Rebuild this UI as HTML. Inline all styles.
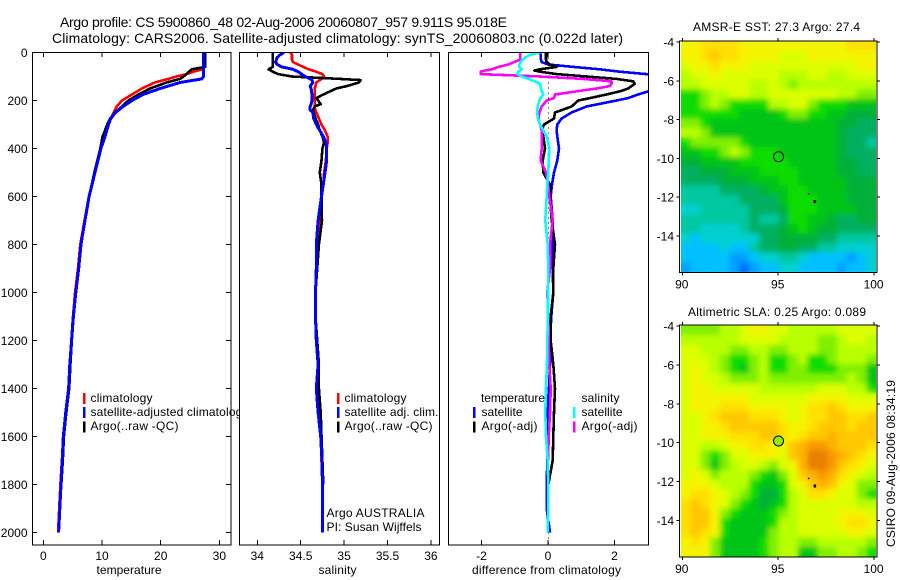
<!DOCTYPE html>
<html>
<head>
<meta charset="utf-8">
<title>Argo profile</title>
<style>
html,body{margin:0;padding:0;background:#fff;width:900px;height:580px;overflow:hidden}
svg{display:block}
text{font-family:"Liberation Sans",sans-serif;font-size:12px;fill:#000}
</style>
</head>
<body>
<svg id="chart" xmlns="http://www.w3.org/2000/svg" width="900" height="580" viewBox="0 0 900 580">
<defs id="defs">
<clipPath id="clip-temp"><rect x="32" y="52" width="199" height="493"/></clipPath>
<clipPath id="clip-sal"><rect x="239" y="52" width="201" height="493"/></clipPath>
<clipPath id="clip-diff"><rect x="448" y="52" width="201" height="493"/></clipPath>
<filter id="map-blur" x="-5%" y="-5%" width="110%" height="110%"><feGaussianBlur stdDeviation="2.6"/></filter>
</defs>
<rect width="900" height="580" fill="#fff"/>
<text x="60" y="27" style="font-size:14px" textLength="447" lengthAdjust="spacing">Argo profile: CS 5900860_48 02-Aug-2006 20060807_957 9.911S 95.018E</text>
<text x="52" y="43" style="font-size:14px" textLength="571" lengthAdjust="spacing">Climatology: CARS2006. Satellite-adjusted climatology: synTS_20060803.nc (0.022d later)</text>
<g id="layer"></g>
<text transform="translate(895,547) rotate(-90)" textLength="167" lengthAdjust="spacing">CSIRO 09-Aug-2006 08:34:19</text>
</svg>
<script>
// ---------- Profile data ----------
const tempDepths = [0,50,60,70,80,90,100,110,125,150,175,200,225,250,275,300,350,400,500,600,700,800,900,1000,1100,1200,1300,1400,1500,1600,1700,1800,1900,2000];
const tempClim = [27.3,27.3,27.3,27.1,25.6,24.4,22.7,21.3,19.0,16.8,15.1,13.4,12.5,12.0,11.5,11.1,10.4,9.8,8.8,7.75,7.0,6.3,5.9,5.4,5.05,4.75,4.5,4.3,3.8,3.4,3.15,2.9,2.7,2.5];
const tempArgo = [27.6,27.6,27.6,25.3,24.8,24.4,23.9,23.3,21.0,18.2,16.2,14.5,13.4,12.2,11.4,10.9,10.1,9.7,8.7,7.8,7.1,6.45,6.05,5.55,5.15,4.85,4.6,4.4,3.9,3.5,3.3,3.05];
const tempSat = [27.3,27.3,27.3,27.3,27.3,27.3,27.3,27.0,23.3,19.9,17.0,15.1,13.6,12.3,11.5,11.1,10.5,9.8,8.8,7.8,7.1,6.4,6.0,5.5,5.1,4.8,4.5,4.3,3.8,3.4,3.2,3.0,2.8,2.6];

const salDepths = [0,10,20,30,40,50,60,70,80,90,100,110,115,125,140,150,175,190,200,215,225,240,250,275,300,325,350,375,400,450,500,550,600,650,700,800,900,1000,1100,1200,1300,1400,1500,1600,1700,1800,1900,2000];
const salClim = [34.38,34.40,34.40,34.40,34.41,34.47,34.53,34.59,34.68,34.75,34.77,34.74,34.72,34.68,34.67,34.66,34.66,34.66,34.66,34.66,34.66,34.67,34.68,34.71,34.74,34.78,34.81,34.81,34.80,34.79,34.77,34.76,34.74,34.74,34.72,34.70,34.68,34.67,34.67,34.68,34.70,34.70,34.72,34.73,34.74,34.75,34.75,34.75];
const salArgo = [34.18,34.18,34.18,34.18,34.18,34.18,34.18,34.13,34.18,34.24,34.40,34.95,35.19,35.17,35.03,34.91,34.76,34.68,34.70,34.73,34.66,34.64,34.65,34.67,34.70,34.72,34.75,34.77,34.75,34.74,34.72,34.74,34.74,34.74,34.745,34.71,34.69,34.67,34.67,34.69,34.71,34.71,34.73,34.74,34.75,34.76];
const salSat = [34.31,34.26,34.23,34.22,34.21,34.23,34.28,34.41,34.47,34.51,34.55,34.61,34.63,34.64,34.61,34.62,34.63,34.63,34.63,34.62,34.61,34.61,34.64,34.65,34.68,34.72,34.76,34.79,34.80,34.80,34.78,34.76,34.74,34.72,34.70,34.68,34.68,34.67,34.67,34.68,34.70,34.68,34.70,34.73,34.745,34.75,34.75,34.75];

const diffDepths = [0,10,20,30,40,50,60,70,75,80,90,100,110,120,130,140,150,160,175,190,200,225,250,275,300,325,350,400,450,500,550,600,700,800,900,1000,1100,1200,1300,1400,1500,1600,1700,1800,1900,2000];
const diffTempSat = [-0.24,-0.22,-0.22,-0.21,-0.19,0.01,0.76,1.56,1.86,2.16,2.96,3.76,4.36,4.76,4.56,3.96,3.56,3.06,2.71,2.41,2.06,1.16,0.71,0.41,0.28,0.26,0.28,0.33,0.28,0.18,0.12,0.08,0.14,0.14,0.14,0.16,0.10,0.06,0.06,0.03,-0.02,-0.04,-0.02,-0.04,-0.04,0.06];
const diffTempArgo = [-0.06,-0.06,-0.06,-0.06,-0.04,0.06,0.26,-0.24,-0.41,-0.24,0.26,1.16,2.06,2.56,2.61,2.51,2.41,2.21,1.76,1.26,0.91,0.71,0.21,0.18,-0.12,-0.19,-0.14,-0.09,-0.16,-0.14,0.06,0.06,0.11,0.21,0.16,0.16,0.08,0.08,0.16,0.21,0.18,0.16,0.14,0.01];
const diffSalArgo = [-0.84,-0.84,-0.84,-0.84,-1.02,-1.19,-1.49,-1.69,-1.89,-2.02,-2.02,-0.24,1.06,1.91,1.91,1.86,1.46,0.96,0.21,0.18,-0.04,-0.19,-0.26,-0.29,-0.24,-0.19,-0.18,-0.19,-0.22,-0.06,0.01,0.04,0.14,0.06,0.06,-0.02,0.01,0.02,0.04,0.08,0.06,0.02,0.0];
const diffSalSat = [-0.24,-0.54,-0.69,-0.76,-0.82,-0.86,-0.86,-0.79,-0.84,-0.89,-0.92,-0.79,-0.59,-0.39,-0.24,-0.22,-0.21,-0.19,-0.14,-0.22,-0.26,-0.31,-0.33,-0.30,-0.24,-0.14,-0.04,0.04,0.02,0.01,-0.02,-0.04,-0.08,-0.01,0.01,0,0,-0.02,-0.03,-0.06,-0.08,-0.06,-0.01,0.01,0.01,-0.01];

// ---------- Tick labels ----------
const depthTicks = [0,200,400,600,800,1000,1200,1400,1600,1800,2000];
const tempTicks = [0,10,20,30];
const salTicks = [34,34.5,35,35.5,36];
const diffTicks = [-2,0,2];
const lonTicks = [90,95,100];
const latTicks = [-4,-6,-8,-10,-12,-14];

// ---------- Map data (colour level per cell, north to south) ----------
const sstGrid = [
[12,12,13,13,13,13,12,12,12,12,12,12,12,12,12,12,12,13,13,13],
[12,12,13,14,13,13,12,12,12,12,11,11,11,12,12,12,12,12,12,12],
[11,12,12,13,12,12,12,11,11,11,11,11,11,11,11,11,11,11,12,12],
[10,11,11,12,11,11,11,11,11,11,10,10,10,11,11,10,10,11,11,11],
[10,10,11,11,11,11,11,10,10,11,10,9,10,10,10,10,10,10,10,10],
[8,8,9,10,10,11,11,10,10,11,11,11,11,11,11,11,10,10,9,9],
[8,8,9,10,9,8,8,8,8,10,10,11,11,9,8,8,8,7,7,7],
[8,8,8,8,8,8,7,7,7,7,8,9,9,8,8,7,7,6,6,6],
[9,9,8,7,7,7,7,7,7,7,7,7,7,7,7,7,6,6,5,5],
[10,10,9,7,7,7,7,7,7,7,7,7,7,7,7,7,6,5,5,5],
[8,9,9,9,9,9,8,7,7,7,7,7,7,7,7,7,6,5,5,4],
[7,7,8,8,9,10,9,8,8,8,7,7,7,7,7,7,6,5,5,5],
[6,6,7,7,7,7,8,8,8,8,8,7,7,7,7,7,6,6,5,5],
[5,5,6,6,6,7,7,7,8,8,8,8,7,7,7,7,6,6,5,5],
[5,5,5,5,6,6,6,7,7,7,8,8,7,7,7,7,7,6,6,6],
[4,4,4,4,5,5,5,5,6,7,7,8,8,7,7,7,7,6,6,6],
[4,4,4,4,4,4,5,5,5,5,7,8,8,8,7,7,7,6,6,6],
[3,3,4,4,4,4,4,5,5,5,6,8,8,8,7,7,7,7,6,6],
[4,4,4,4,4,4,4,5,4,4,5,8,8,7,7,6,5,5,6,6],
[4,4,3,3,3,3,4,5,5,5,6,7,8,7,6,6,5,5,5,5],
[3,2,3,3,3,3,3,3,5,5,6,6,6,6,5,5,4,4,4,4],
[2,2,2,2,3,2,2,4,5,5,6,6,5,5,4,4,3,3,3,3],
[2,2,2,2,2,1,1,2,3,3,4,4,3,2,2,2,2,1,2,3],
[1,2,2,2,2,1,0,1,2,2,3,3,2,2,2,2,1,2,2,3]
];
const slaGrid = [
[9,9,9,9,10,10,11,12,12,11,11,10,10,10,10,10,11,11,11,11],
[10,10,10,10,10,10,11,11,11,11,10,10,10,10,9,9,10,11,11,10],
[11,11,10,10,10,9,9,10,10,9,9,10,10,10,9,9,10,10,10,10],
[11,11,11,10,9,8,8,9,10,8,8,9,10,8,8,9,10,10,10,9],
[11,12,11,10,9,8,7,9,10,8,8,9,9,8,8,8,9,9,9,7],
[11,12,11,11,10,9,9,9,10,9,9,9,9,9,9,9,9,10,9,7],
[11,12,12,11,11,11,11,11,10,10,10,10,10,10,11,11,11,10,10,8],
[11,12,12,12,12,12,12,11,11,11,11,11,11,12,12,12,12,11,11,11],
[11,12,12,12,13,13,13,12,12,12,12,11,12,13,13,14,13,12,12,12],
[11,11,12,13,14,14,14,13,13,13,12,11,12,13,13,14,14,13,13,14],
[11,11,12,12,13,14,14,14,14,14,13,12,12,13,14,14,14,13,14,14],
[11,11,12,12,12,13,13,13,14,14,13,12,13,14,14,15,14,14,14,14],
[11,11,10,10,11,12,12,13,13,12,12,14,15,16,16,15,14,14,14,13],
[11,11,9,8,9,11,11,12,12,12,11,14,15,17,17,16,15,14,13,12],
[11,11,9,7,9,10,11,11,10,9,11,12,15,17,17,16,14,13,12,11],
[11,12,11,9,10,10,10,9,8,7,9,11,14,15,16,15,13,12,11,10],
[12,12,12,11,10,10,10,8,7,7,8,11,12,14,15,14,12,11,9,9],
[12,13,13,12,11,10,9,8,6,6,8,10,11,13,13,12,11,11,9,8],
[13,14,13,12,11,9,8,7,6,7,8,10,11,11,11,11,11,11,10,10],
[13,14,14,12,9,8,7,7,7,8,9,10,11,11,11,11,12,12,12,11],
[13,14,14,12,8,7,7,7,7,8,10,10,11,11,11,11,12,13,13,12],
[13,14,13,12,8,7,7,7,7,9,10,10,11,11,11,11,11,12,12,11],
[12,13,12,9,7,7,7,7,8,9,10,10,9,9,10,10,10,10,10,9],
[12,12,12,9,7,7,7,7,8,9,10,10,7,7,9,9,10,10,9,8]
];
const levelColours = ['#0070ff','#00a0ff','#00c0ff','#00d0d0','#00c8a0','#00b060','#00b038','#00c418','#10dc00','#80f000','#b8ff00','#dcff00','#f4f400','#ffe000','#ffc800','#ffb000','#f89800','#e88000'];
const profileLon = [96.6,96.9];
const profileLat = [-11.85,-12.2];
const argoLon = [95.018];
const argoLat = [-9.911];

// ---------- Axis functions ----------
function yDepth(d){return 52.5+0.24*d;}
function xTemp(v){return 43.4+5.865*v;}
function xSal(v){return 257.3+86.8*(v-34);}
function xDiff(v){return 548+33.25*v;}
function xLon(v){return 682.3+19.18*(v-90);}
function yLat1(v){return 42+19.4*(-4-v);}
function yLat2(v){return 326+19.45*(-4-v);}

const NS='http://www.w3.org/2000/svg';
const layer=document.getElementById('layer');
function mk(tag,name,props,parent){
  const el=document.createElementNS(NS,tag);
  
  
  for(const k in props){el.setAttribute(k,props[k]);}
  (parent||layer).appendChild(el);
  return el;
}
function label(name,x,y,str,anchor,len){
  const p={x:x,y:y};
  if(anchor)p['text-anchor']=anchor;
  if(len){p.textLength=len;p.lengthAdjust='spacing';}
  const t=mk('text',name,p);
  t.textContent=str;
  return t;
}
function seg(name,x1,y1,x2,y2,col,w){
  return mk('line',name,{x1:x1,y1:y1,x2:x2,y2:y2,stroke:col||'#000','stroke-width':w||1,'shape-rendering':'crispEdges'});
}
function profile(name,depths,vals,xf,col,clip,w){
  const pts=vals.map(function(v,i){return xf(v).toFixed(1)+','+yDepth(depths[i]).toFixed(1);}).join(' ');
  return mk('polyline',name,{points:pts,fill:'none',stroke:col,'stroke-width':w||2.6,'stroke-linejoin':'round','clip-path':'url(#'+clip+')','shape-rendering':'crispEdges'});
}
function panelFrame(name,x0,x1){
  mk('rect',name,{x:x0,y:52.5,width:x1-x0,height:492.5,fill:'none',stroke:'#000','stroke-width':1,'shape-rendering':'crispEdges'});
}
function legendMark(name,x,y,col){
  seg(name,x,y,x,y+11,col,2.5);
}

// ---------- Temperature panel ----------
mk('rect','temperature-panel-background',{x:32.5,y:52.5,width:198.5,height:492.5,fill:'#fff'});
profile('temperature-climatology-line',tempDepths,tempClim,xTemp,'#ff0000','clip-temp');
profile('temperature-argo-line',tempDepths,tempArgo,xTemp,'#000000','clip-temp');
profile('temperature-satellite-line',tempDepths,tempSat,xTemp,'#0000ff','clip-temp',3);
legendMark('legend-mark-climatology',84,393,'#ff0000');
legendMark('legend-mark-satellite',84,407,'#0000ff');
legendMark('legend-mark-argo',84,421.5,'#000000');
label('legend-climatology',90.5,402,'climatology',null,62);
label('legend-satellite-adjusted',90.5,416,'satellite-adjusted climatology',null,158);
label('legend-argo',90.5,430,'Argo(..raw -QC)',null,88);

// ---------- Salinity panel ----------
mk('rect','salinity-panel-background',{x:239.5,y:52.5,width:200,height:492.5,fill:'#fff'});
mk('rect','gutter-mask',{x:439.5,y:52,width:9,height:493,fill:'#fff'});
profile('salinity-climatology-line',salDepths,salClim,xSal,'#ff0000','clip-sal');
profile('salinity-argo-line',salDepths,salArgo,xSal,'#000000','clip-sal');
profile('salinity-satellite-line',salDepths,salSat,xSal,'#0000ff','clip-sal',3);
legendMark('salinity-legend-mark-climatology',338,393,'#ff0000');
legendMark('salinity-legend-mark-satellite',338,407,'#0000ff');
legendMark('salinity-legend-mark-argo',338,421.5,'#000000');
label('salinity-legend-climatology',344.5,402,'climatology',null,62);
label('salinity-legend-satellite',344.5,416,'satellite adj. clim.',null,94);
label('salinity-legend-argo',344.5,430,'Argo(..raw -QC)',null,88);
label('argo-country-label',326.5,517,'Argo AUSTRALIA',null,98);
label('principal-investigator-label',326.5,531,'PI: Susan Wijffels',null,95);

// ---------- Difference panel ----------
mk('rect','difference-panel-background',{x:448.5,y:52.5,width:200,height:492.5,fill:'#fff'});
mk('line','zero-reference-line',{x1:xDiff(0)+0.5,y1:52.5,x2:xDiff(0)+0.5,y2:545,stroke:'#000','stroke-width':1,'stroke-dasharray':'1 4','shape-rendering':'crispEdges'});
profile('difference-temperature-satellite-line',diffDepths,diffTempSat,xDiff,'#0000ff','clip-diff');
profile('difference-temperature-argo-line',diffDepths,diffTempArgo,xDiff,'#000000','clip-diff');
profile('difference-salinity-argo-line',diffDepths,diffSalArgo,xDiff,'#ff00ff','clip-diff');
profile('difference-salinity-satellite-line',diffDepths,diffSalSat,xDiff,'#00ffff','clip-diff');
label('legend-temperature-heading',481,402,'temperature',null,64);
label('legend-salinity-heading',581.5,402,'salinity',null,38);
legendMark('difference-legend-mark-temp-satellite',474,407,'#0000ff');
legendMark('difference-legend-mark-temp-argo',474,421.5,'#000000');
legendMark('difference-legend-mark-sal-satellite',574,407,'#00ffff');
legendMark('difference-legend-mark-sal-argo',574,421.5,'#ff00ff');
label('legend-temp-satellite',481.5,416,'satellite',null,41);
label('legend-temp-argo',481.5,430,'Argo(-adj)',null,56);
label('legend-sal-satellite',581.5,416,'satellite',null,41);
label('legend-sal-argo',581.5,430,'Argo(-adj)',null,56);

// ---------- Frames, ticks, labels ----------
panelFrame('temperature-axes-frame',32.5,231);
panelFrame('salinity-axes-frame',239.5,439.5);
panelFrame('difference-axes-frame',448.5,648.5);

depthTicks.forEach(function(d){
  const y=yDepth(d);
  seg('depth-tick-left',32.5,y,37,y);
  seg('depth-tick-right',226,y,231,y);
  label('depth-tick-label',27.5,y+4.5,String(d),'end');
});
tempTicks.forEach(function(v){
  const x=xTemp(v);
  seg('temperature-tick-top',x,52.5,x,57);
  seg('temperature-tick-bottom',x,540,x,545);
  label('temperature-tick-label',x,560,String(v),'middle');
});
salTicks.forEach(function(v){
  const x=xSal(v);
  seg('salinity-tick-top',x,52.5,x,57);
  seg('salinity-tick-bottom',x,540,x,545);
  label('salinity-tick-label',x,560,String(v),'middle');
});
diffTicks.forEach(function(v){
  const x=xDiff(v);
  seg('difference-tick-top',x,52.5,x,57);
  seg('difference-tick-bottom',x,540,x,545);
  label('difference-tick-label',x,560,String(v),'middle');
});
label('temperature-axis-title',129,574,'temperature','middle',65);
label('salinity-axis-title',337.5,574,'salinity','middle',38);
label('difference-axis-title',546.5,574,'difference from climatology','middle',149);

// ---------- Maps ----------
function levelColour(v){
  const i=Math.max(0,Math.min(levelColours.length-1,Math.round(v)));
  return levelColours[i];
}
function drawMap(prefix,grid,yLat,title,titleX,titleLen,titleY,circleFill){
  const lonMin=89.92,lonMax=100.1,latMax=-3.98,latMin=-15.85;
  const cols=grid[0].length,rows=grid.length;
  const left=xLon(lonMin),right=xLon(lonMax),topEdge=yLat(latMax),botEdge=yLat(latMin);
  const clip=mk('clipPath',prefix+'-clip',{id:prefix+'-clip'},document.getElementById('defs'));
  mk('rect',prefix+'-clip-rect',{x:left,y:topEdge,width:right-left,height:botEdge-topEdge},clip);
  const wrap=mk('g',prefix+'-plot-area',{'clip-path':'url(#'+prefix+'-clip)'});
  const g=mk('g',prefix+'-heatmap',{id:prefix+'-cells','shape-rendering':'crispEdges'},wrap);
  grid.forEach(function(row,r){
    row.forEach(function(v,c){
      const x0=xLon(lonMin+(lonMax-lonMin)*c/cols);
      const x1=xLon(lonMin+(lonMax-lonMin)*(c+1)/cols);
      const y0=yLat(latMax+(latMin-latMax)*r/rows);
      const y1=yLat(latMax+(latMin-latMax)*(r+1)/rows);
      mk('rect',prefix+'-cell',{x:x0.toFixed(2),y:y0.toFixed(2),width:(x1-x0+0.4).toFixed(2),height:(y1-y0+0.4).toFixed(2),fill:levelColour(v)},g);
    });
  });
  mk('use',prefix+'-heatmap-smoothing',{href:'#'+prefix+'-cells',filter:'url(#map-blur)'},wrap);
  const top=yLat(-4)-1, bot=yLat(-15.85)+0.5;
  mk('rect',prefix+'-frame',{x:679.5,y:top,width:197.5,height:bot-top,fill:'none',stroke:'#000','stroke-width':1,'shape-rendering':'crispEdges'});
  lonTicks.forEach(function(v){
    const x=xLon(v);
    seg(prefix+'-lon-tick-top',x,top-3,x,top);
    seg(prefix+'-lon-tick-bottom',x,bot,x,bot+3);
    label(prefix+'-lon-tick-label',x-0.5,bot+16,String(v),'middle');
  });
  latTicks.forEach(function(v){
    const y=yLat(v);
    seg(prefix+'-lat-tick-left',676.5,y,679.5,y);
    seg(prefix+'-lat-tick-right',877,y,880,y);
    label(prefix+'-lat-tick-label',674,y+4.5,String(v),'end');
  });
  label(prefix+'-title',titleX,titleY,title,null,titleLen);
  mk('circle',prefix+'-argo-location',{cx:xLon(argoLon[0]),cy:yLat(argoLat[0]),r:5,fill:circleFill,stroke:'#000','stroke-width':1});
  profileLon.forEach(function(lon,i){
    mk('rect',prefix+'-track-dot',{x:xLon(lon)-1,y:yLat(profileLat[i])-1,width:i?2.5:1.5,height:i?3:1.5,fill:'#000'});
  });
}
drawMap('sst-map',sstGrid,yLat1,'AMSR-E SST: 27.3 Argo: 27.4',693,167,31,'none');
drawMap('sla-map',slaGrid,yLat2,'Altimetric SLA: 0.25 Argo: 0.089',688,178,316,'#90f000');
</script>
</body>
</html>
